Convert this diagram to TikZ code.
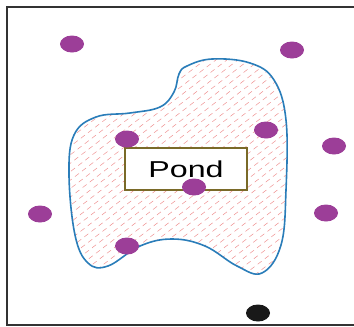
\documentclass[tikz,border=0pt]{standalone}
\usepackage{fontspec}
\setmainfont{Liberation Sans}
\usetikzlibrary{shapes.geometric}
\definecolor{dotpurple}{HTML}{9C3E98}
\definecolor{pondblue}{HTML}{2A7DB9}
\definecolor{boxolive}{HTML}{7A6A28}
\definecolor{hatchpink}{HTML}{EE9090}
\tikzset{
  dot/.style={ellipse,fill=dotpurple,minimum width=24pt,minimum height=17pt,inner sep=0pt},
  label box/.style={draw=boxolive,line width=1.2pt,fill=white,minimum width=122pt,minimum height=42pt,inner sep=0pt}
}

\begin{document}
\begin{tikzpicture}[x=1pt,y=-1pt]
        \useasboundingbox (0,0) rectangle (354,327);
        % Frame
        \draw[line width=1.6pt,black!80] (380,7) -- (7,7) -- (7,325) -- (380,325);

        % Pond outline
        \def\Pond{plot[smooth cycle,tension=0.65] coordinates{(187,66) (212,59) (250,63) (274,80) (286,120) (286,190) (281,245) (262,273) (237,266) (205,246) (172,239) (140,246) (108,266) (88,263) (75,235) (69,175) (74,135) (96,117) (130,113) (160,107) (174,92) (179,74)}}
        \begin{scope}
        \clip \Pond;
        \foreach \c in {-400,-389,...,300}{
        \draw[hatchpink,line width=0.5pt,dash pattern=on 5pt off 4pt] (\c,330) -- (\c+430,0);
        }
        \end{scope}
        \draw[pondblue,line width=1.6pt] \Pond;

        \node[label box] (pond) at (186,169) {\fontsize{23}{25}\selectfont\scalebox{1.4}[1]{Pond}};

        % Dots
        \foreach \Point [count=\i] in {(72,44),(292,50),(127,139),(266,130),(334,146),(194,187),(40,214),(326,213),(127,246)}{
        \node[dot] (d\i) at \Point {};
        }
        \node[dot,fill=black!90] (well) at (258,313) {};
\end{tikzpicture}
\end{document}
